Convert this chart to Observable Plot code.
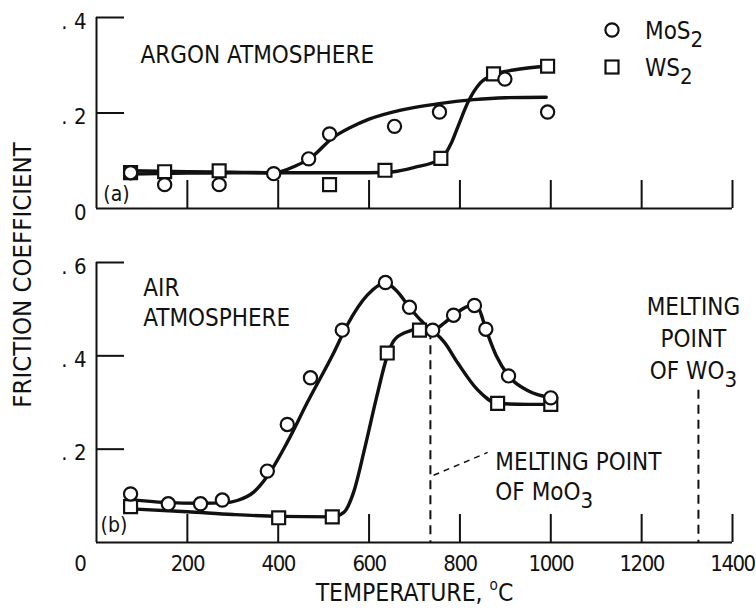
<!DOCTYPE html>
<html><head><meta charset="utf-8">
<script src="https://cdn.jsdelivr.net/npm/d3@7"></script>
<script src="https://cdn.jsdelivr.net/npm/@observablehq/plot@0.6"></script>
<style>
html,body{margin:0;padding:0;background:#fff;}
#chart{position:relative;width:756px;height:612px;overflow:hidden;background:#fff;color:#111;
  font-family:"Liberation Sans Narrow","DejaVu Sans Condensed","Roboto Condensed",sans-serif;}
#chart > svg{position:absolute;left:0;}
#ytitle{position:absolute;left:23px;top:275px;transform:translate(-50%,-50%) rotate(-90deg);
  white-space:nowrap;font-size:25.5px;line-height:1;}
</style></head>
<body><div id="chart"><div id="ytitle">FRICTION COEFFICIENT</div></div>
<script>
// ---------- data (temperature °C, friction coefficient) ----------
const xTicks = [0, 200, 400, 600, 800, 1000, 1200, 1400];
const argonYTicks = [0, 0.2, 0.4];
const airYTicks = [0.2, 0.4, 0.6];

// (a) Argon atmosphere — measured points
const argonMoS2 = [[75,0.075],[150,0.05],[270,0.05],[390,0.073],[467,0.104],[513,0.156],[656,0.172],[755,0.202],[899,0.271],[993,0.202]];
const argonWS2  = [[75,0.075],[150,0.077],[270,0.079],[513,0.05],[635,0.08],[758,0.105],[874,0.282],[993,0.298]];
// (a) faired curves
const argonMoS2Curve = [[75,0.079],[200,0.077],[300,0.076],[390,0.075],[440,0.09],[470,0.105],[520,0.148],[560,0.17],[600,0.187],[670,0.206],[750,0.219],[830,0.228],[900,0.232],[990,0.233]];
const argonWS2Curve  = [[75,0.072],[200,0.074],[300,0.075],[400,0.075],[500,0.075],[600,0.075],[654,0.077],[700,0.086],[758,0.104],[780,0.135],[795,0.17],[819,0.225],[845,0.263],[874,0.28],[918,0.29],[993,0.298]];

// (b) Air atmosphere — measured points
const airMoS2 = [[75,0.104],[158,0.083],[229,0.083],[277,0.091],[376,0.153],[420,0.253],[471,0.353],[541,0.455],[636,0.557],[689,0.504],[740,0.455],[786,0.487],[832,0.508],[857,0.457],[907,0.357],[1000,0.31]];
const airWS2  = [[75,0.077],[401,0.053],[519,0.055],[640,0.406],[711,0.455],[883,0.298],[1000,0.296]];
// (b) faired curves
const airMoS2Curve = [[75,0.092],[150,0.086],[230,0.084],[280,0.085],[310,0.09],[346,0.108],[376,0.142],[420,0.215],[464,0.3],[522,0.406],[552,0.466],[596,0.53],[636,0.556],[660,0.54],[689,0.504],[715,0.475],[740,0.455],[765,0.47],[790,0.49],[825,0.508],[840,0.503],[857,0.457],[880,0.4],[907,0.357],[950,0.325],[1000,0.31]];
const airWS2Curve  = [[75,0.072],[200,0.066],[300,0.06],[401,0.056],[519,0.055],[545,0.065],[566,0.108],[590,0.2],[617,0.313],[640,0.4],[654,0.432],[680,0.45],[711,0.457],[740,0.452],[765,0.43],[795,0.385],[839,0.327],[883,0.298],[950,0.296],[1000,0.296]];

// melting points (°C) and the curve height where each dashed marker starts
const meltingPoints = [{name:"MoO3", t:735, top:0.454}, {name:"WO3", t:1325, top:0.326}];

// ---------- layout ----------
const FONT = '"Liberation Sans Narrow","DejaVu Sans Condensed","Roboto Condensed",sans-serif';
const W = 756, ML = 96, MR = 24, innerW = W - ML - MR, TICK = 28, INK = "#111";
const LBL = 22, ANN = 24;
const rows = (pairs) => pairs.map(([t, f]) => ({t, f}));
const yFmt = (d) => d === 0 ? "0" : ". " + Math.round(d * 10);
const style = {fontFamily: FONT, fontSize: "24px", color: INK, background: "transparent", overflow: "visible"};

function seriesMarks(moCurve, wCurve, moPts, wPts) {
  return [
    Plot.line(rows(wCurve), {x: "t", y: "f", curve: "monotone-x", stroke: INK, strokeWidth: 3.4}),
    Plot.line(rows(moCurve), {x: "t", y: "f", curve: "monotone-x", stroke: INK, strokeWidth: 3.4}),
    Plot.dot(rows(wPts), {x: "t", y: "f", symbol: "square", r: 7.3, fill: "white", stroke: INK, strokeWidth: 2.2}),
    Plot.dot(rows(moPts), {x: "t", y: "f", symbol: "circle", r: 6.6, fill: "white", stroke: INK, strokeWidth: 2.2})
  ];
}

// top panel (a)
const topH = 220, topMT = 17, topMB = 12, topInner = topH - topMT - topMB;
const topPlot = Plot.plot({
  width: W, height: topH, marginLeft: ML, marginRight: MR, marginTop: topMT, marginBottom: topMB,
  x: {domain: [0, 1400], axis: null, label: null},
  y: {domain: [0, 0.4], axis: null, label: null},
  style,
  marks: [
    Plot.ruleY([0], {stroke: INK, strokeWidth: 2}),
    Plot.ruleX([0], {y1: 0, y2: 0.4, stroke: INK, strokeWidth: 2}),
    Plot.tickY(argonYTicks.filter(d => d > 0), {y: d => d, insetRight: innerW - TICK, stroke: INK, strokeWidth: 2}),
    Plot.tickX(xTicks.filter(d => d > 0), {x: d => d, insetTop: topInner - TICK, stroke: INK, strokeWidth: 2}),
    Plot.axisY({ticks: argonYTicks, tickSize: 0, tickPadding: 10, tickFormat: yFmt, dy: 4, fontSize: LBL, label: null}),
    ...seriesMarks(argonMoS2Curve, argonWS2Curve, argonMoS2, argonWS2),
    Plot.text(["ARGON ATMOSPHERE"], {x: 97, y: 0.341, textAnchor: "start", lineAnchor: "top", fontSize: ANN}),
    Plot.text(["(a)"], {x: 15, y: 0.048, textAnchor: "start", lineAnchor: "top", fontSize: 21})
  ]
});
topPlot.style.top = "0px";

// bottom panel (b)
const botH = 392, botMT = 42, botMB = 70, botInner = botH - botMT - botMB;
const botPlot = Plot.plot({
  width: W, height: botH, marginLeft: ML, marginRight: MR, marginTop: botMT, marginBottom: botMB,
  x: {domain: [0, 1400], axis: null, label: null},
  y: {domain: [0, 0.6], axis: null, label: null},
  style,
  marks: [
    Plot.ruleY([0], {stroke: INK, strokeWidth: 2}),
    Plot.ruleX([0], {y1: 0, y2: 0.6, stroke: INK, strokeWidth: 2}),
    Plot.tickY(airYTicks, {y: d => d, insetRight: innerW - TICK, stroke: INK, strokeWidth: 2}),
    Plot.tickX(xTicks.filter(d => d > 0), {x: d => d, insetTop: botInner - TICK, stroke: INK, strokeWidth: 2}),
    Plot.axisY({ticks: airYTicks, tickSize: 0, tickPadding: 10, tickFormat: yFmt, dy: 4, fontSize: LBL, label: null}),
    Plot.axisX({ticks: xTicks.filter(d => d > 0), tickSize: 0, tickPadding: 13, tickFormat: d => String(d), fontSize: LBL, label: null}),
    Plot.text(xTicks.filter(d => d === 0), {x: d => d, frameAnchor: "bottom", lineAnchor: "top", dy: 13, dx: -16, text: d => String(d), fontSize: LBL}),
    Plot.text(["TEMPERATURE, ^oC"], {frameAnchor: "bottom", lineAnchor: "top", dy: 41, fontSize: 24.5}),
    Plot.ruleX(meltingPoints, {x: "t", y1: "top", y2: 0, stroke: INK, strokeWidth: 2, strokeDasharray: "9,6"}),
    Plot.link([meltingPoints[0]], {x1: d => d.t + 7, y1: 0.144, x2: d => d.t + 126, y2: 0.193, stroke: INK, strokeWidth: 1.5, strokeDasharray: "6,5"}),
    ...seriesMarks(airMoS2Curve, airWS2Curve, airMoS2, airWS2),
    Plot.text(["AIR\nATMOSPHERE"], {x: 103, y: 0.576, textAnchor: "start", lineAnchor: "top", lineHeight: 1.28, fontSize: ANN}),
    Plot.text(["MELTING\nPOINT\nOF WO_3"], {x: 1314, y: 0.536, textAnchor: "middle", lineAnchor: "top", lineHeight: 1.33, fontSize: ANN}),
    Plot.text(["MELTING POINT\nOF MoO_3"], {x: 878, y: 0.201, textAnchor: "start", lineAnchor: "top", lineHeight: 1.25, fontSize: ANN}),
    Plot.text(["(b)"], {x: 9, y: 0.054, textAnchor: "start", lineAnchor: "top", fontSize: 21})
  ]
});
botPlot.style.top = topH + "px";

// tighter tracking on the narrow numeric tick labels
botPlot.querySelectorAll('[aria-label="x-axis tick label"] text').forEach(t => t.style.letterSpacing = "-1.5px");

// sub/superscripts: "_x" → subscript, "^x" → superscript
function scripts(svg) {
  svg.querySelectorAll("text, tspan").forEach(el => {
    if (el.children.length) return;
    const s = el.textContent;
    if (!/[_^]/.test(s)) return;
    el.textContent = "";
    const re = /([_^])(.)/g; let last = 0, m;
    while ((m = re.exec(s))) {
      if (m.index > last) el.appendChild(document.createTextNode(s.slice(last, m.index)));
      const t = document.createElementNS("http://www.w3.org/2000/svg", "tspan");
      if (m[1] === "_") { t.style.fontSize = "0.92em"; t.setAttribute("baseline-shift", "-0.38em"); }
      else { t.style.fontSize = "0.62em"; t.setAttribute("baseline-shift", "0.75em"); }
      t.textContent = m[2];
      el.appendChild(t);
      last = re.lastIndex;
    }
    if (last < s.length) el.appendChild(document.createTextNode(s.slice(last)));
  });
}
scripts(topPlot); scripts(botPlot);

const chart = document.getElementById("chart");
chart.appendChild(topPlot);
chart.appendChild(botPlot);

// legend
const legendItems = [{label: "MoS_2", symbol: "circle"}, {label: "WS_2", symbol: "square"}];
const leg = d3.create("svg").attr("width", W).attr("height", 100).style("top", "0px")
  .style("font-family", FONT).style("font-size", "24px");
legendItems.forEach((d, i) => {
  const cy = 30 + i * 37;
  if (d.symbol === "circle") leg.append("circle").attr("cx", 612).attr("cy", cy).attr("r", 6.6)
    .attr("fill", "white").attr("stroke", INK).attr("stroke-width", 2.2);
  else leg.append("rect").attr("x", 605.5).attr("y", cy - 6.5).attr("width", 13).attr("height", 13)
    .attr("fill", "white").attr("stroke", INK).attr("stroke-width", 2.2);
  leg.append("text").attr("x", 645).attr("y", cy + 9).attr("fill", INK).text(d.label);
});
scripts(leg.node());
chart.appendChild(leg.node());
</script>
</body></html>
